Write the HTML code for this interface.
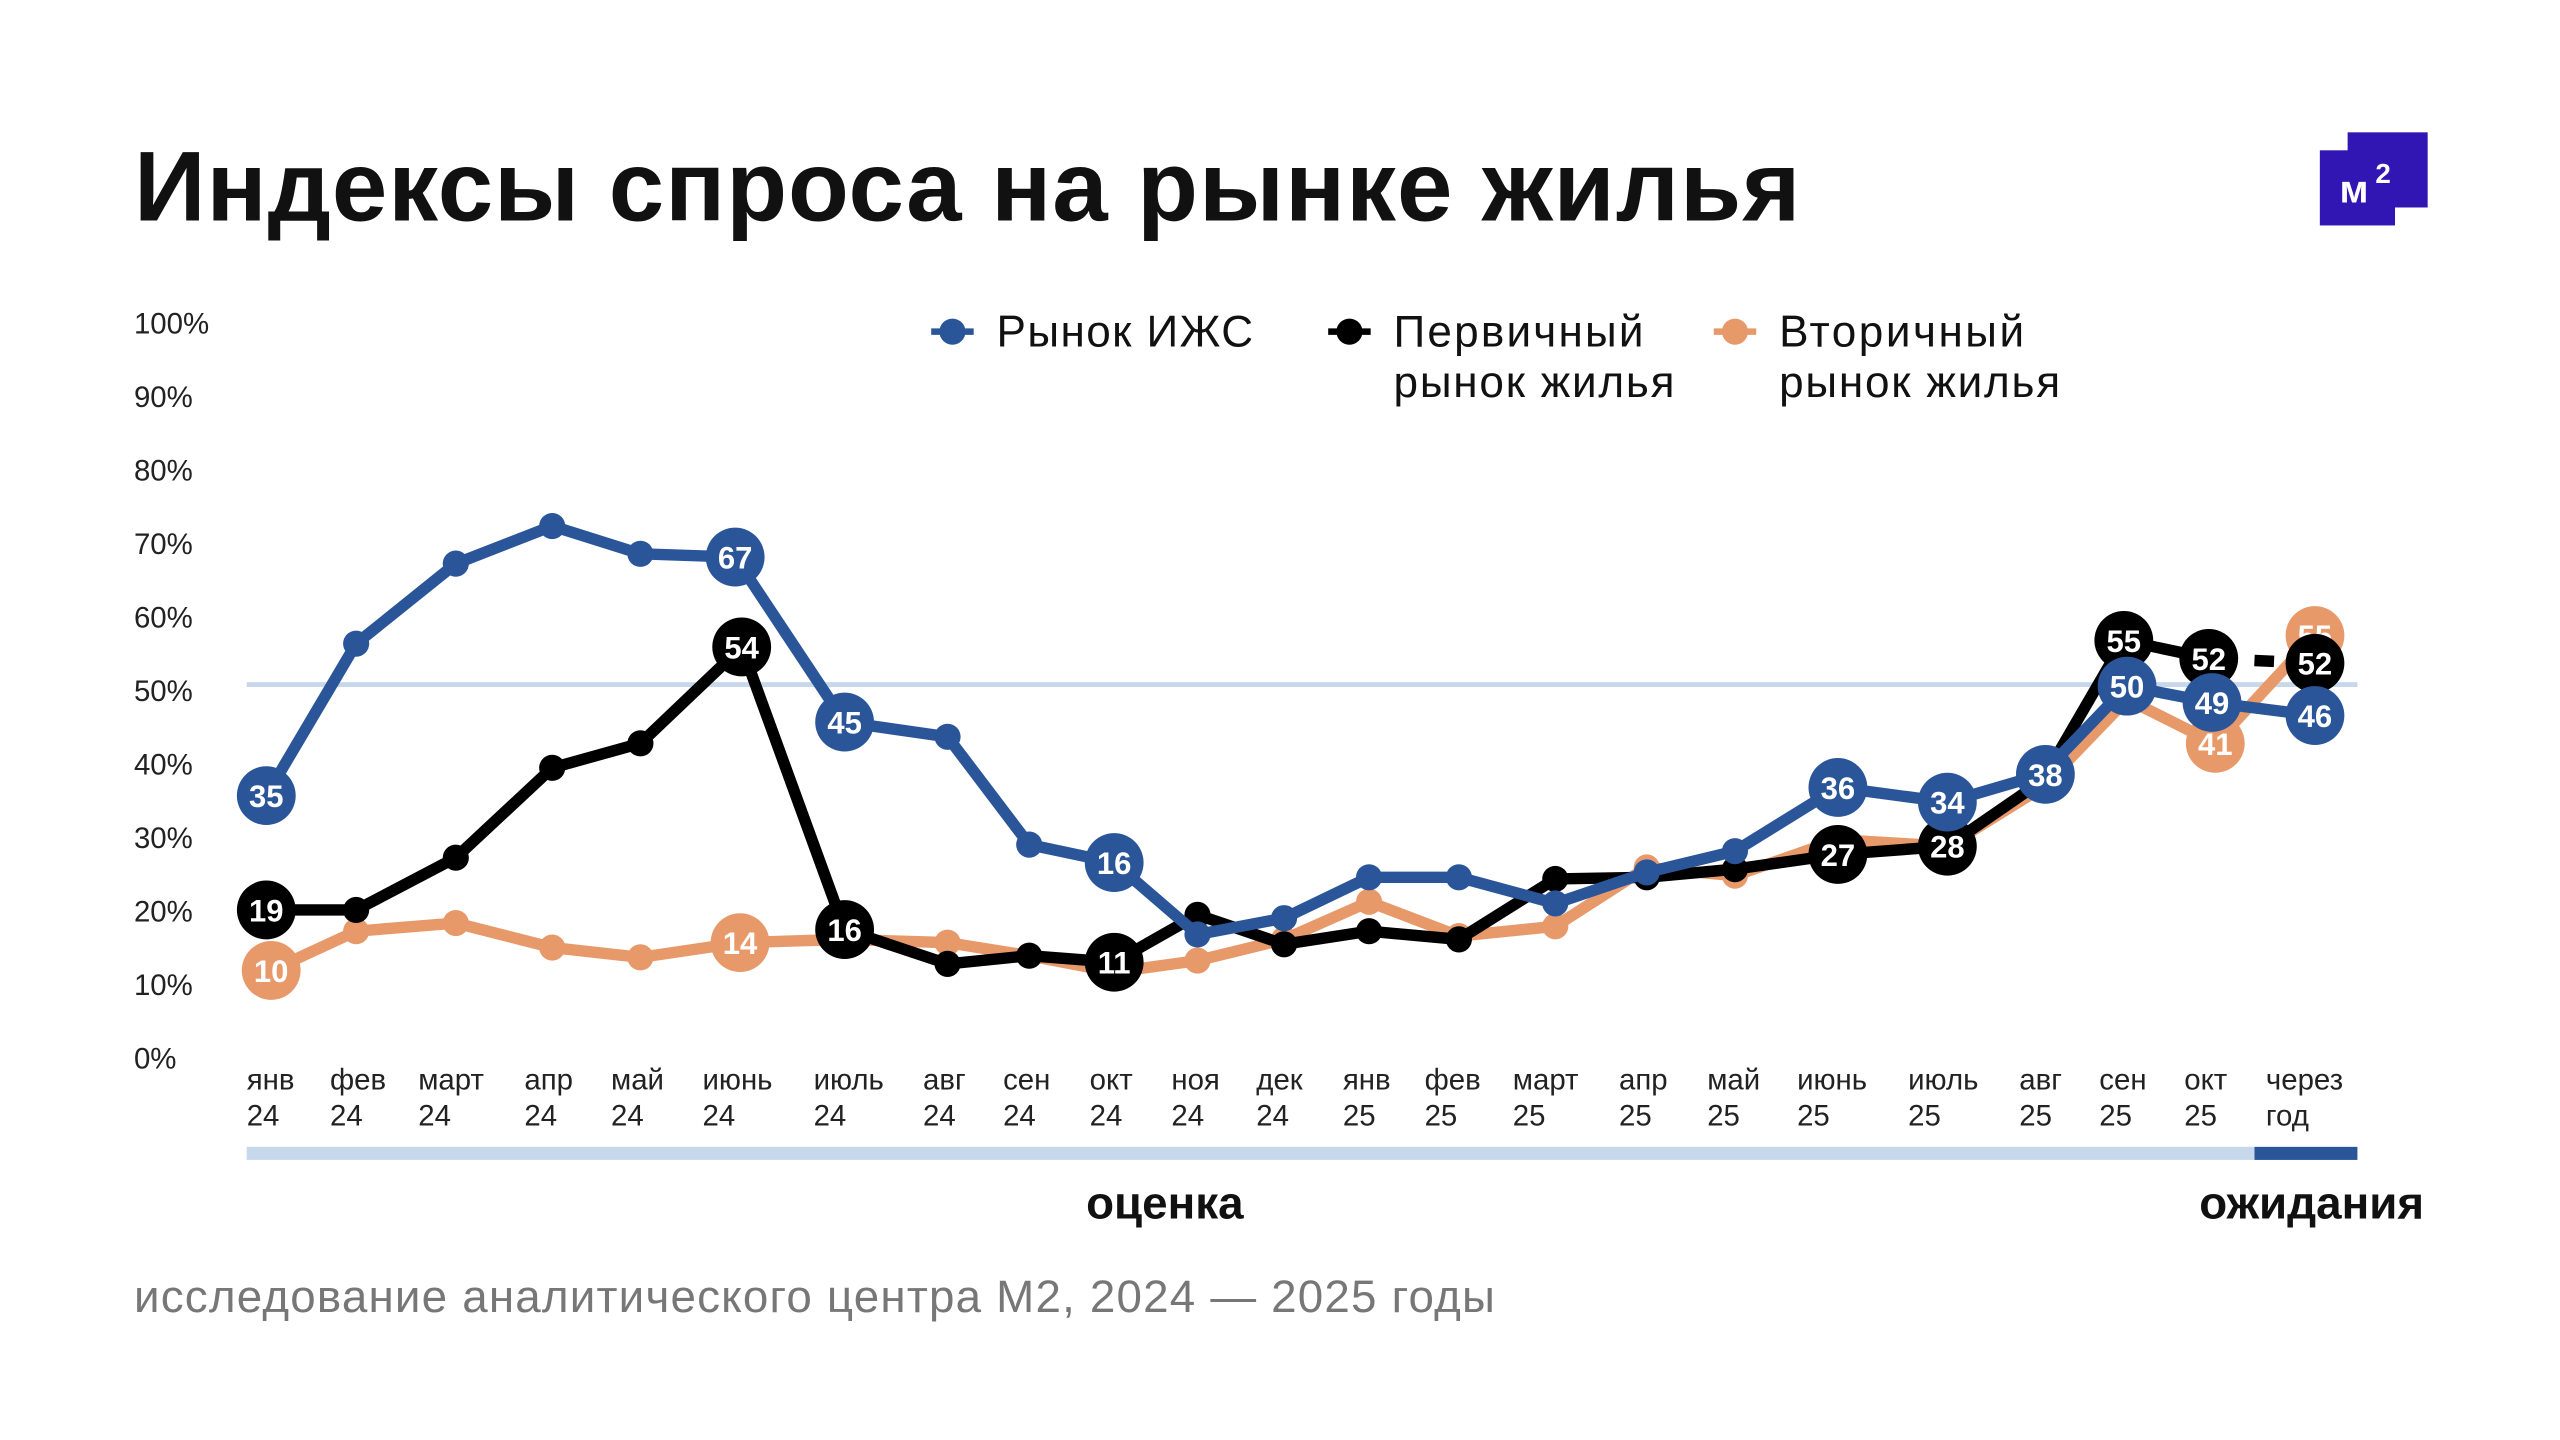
<!DOCTYPE html>
<html><head><meta charset="utf-8"><style>
html,body{margin:0;padding:0;background:#fff;}
svg{display:block;}
text{font-family:"Liberation Sans","DejaVu Sans",sans-serif;}
</style></head><body>
<svg width="2560" height="1440" viewBox="0 0 1567 881" preserveAspectRatio="xMinYMin meet" xmlns="http://www.w3.org/2000/svg">
<rect width="1567" height="881" fill="#fff"/>
<text x="82" y="135" font-size="61" font-weight="bold" fill="#111" textLength="1020">Индексы спроса на рынке жилья</text>
<rect x="1437" y="81" width="49" height="46" fill="#3216b4"/>
<rect x="1420" y="92" width="46" height="46" fill="#3216b4"/>
<text x="1432" y="124" font-size="24" font-weight="bold" fill="#fff">м</text>
<text x="1454" y="112" font-size="17" font-weight="bold" fill="#fff">2</text>

<g font-size="18" fill="#222">
<text x="82" y="204">100%</text><text x="82" y="249">90%</text><text x="82" y="294">80%</text><text x="82" y="339">70%</text><text x="82" y="384">60%</text><text x="82" y="429">50%</text><text x="82" y="474">40%</text><text x="82" y="519">30%</text><text x="82" y="564">20%</text><text x="82" y="609">10%</text><text x="82" y="654">0%</text>
</g>

<g font-size="27" fill="#111">
<line x1="570" y1="203" x2="596" y2="203" stroke="#2a5699" stroke-width="4"/><circle cx="583" cy="203" r="8" fill="#2a5699"/>
<text x="610" y="212" textLength="157">Рынок ИЖС</text>
<line x1="813" y1="203" x2="839" y2="203" stroke="#000" stroke-width="4"/><circle cx="826" cy="203" r="8" fill="#000"/>
<text x="853" y="212" textLength="153">Первичный</text><text x="853" y="243" textLength="172">рынок жилья</text>
<line x1="1049" y1="203" x2="1075" y2="203" stroke="#e8996a" stroke-width="4"/><circle cx="1062" cy="203" r="8" fill="#e8996a"/>
<text x="1089" y="212" textLength="150">Вторичный</text><text x="1089" y="243" textLength="172">рынок жилья</text>
</g>

<line x1="151" y1="419" x2="1443" y2="419" stroke="#c8d8ec" stroke-width="3"/>

<g fill="none" stroke-width="7" stroke-linejoin="round">
<polyline stroke="#e8996a" points="166,594 218,570 279,565 338,580 392,586 453,577 517,575 580,577 630,585 682,595 733,588 786,575 838,552 893,573 952,567 1008,531 1062,536 1125,514 1192,518 1250,482 1302,428 1356,455 1417,389"/>
</g>
<g fill="#e8996a">
<circle cx="218" cy="570" r="8"/><circle cx="279" cy="565" r="8"/><circle cx="338" cy="580" r="8"/><circle cx="392" cy="586" r="8"/><circle cx="517" cy="575" r="8"/><circle cx="580" cy="577" r="8"/><circle cx="630" cy="585" r="8"/><circle cx="733" cy="588" r="8"/><circle cx="786" cy="575" r="8"/><circle cx="838" cy="552" r="8"/><circle cx="893" cy="573" r="8"/><circle cx="952" cy="567" r="8"/><circle cx="1008" cy="531" r="8"/><circle cx="1062" cy="536" r="8"/><circle cx="1125" cy="514" r="8"/><circle cx="1250" cy="482" r="8"/><circle cx="1302" cy="428" r="8"/>
<circle cx="166" cy="594" r="18"/><circle cx="453" cy="577" r="18"/><circle cx="1356" cy="455" r="18"/><circle cx="1417" cy="389" r="18"/>
</g>
<g font-size="19" font-weight="bold" fill="#fff" text-anchor="middle">
<text x="166" y="601">10</text><text x="453" y="584">14</text><text x="1356" y="462">41</text><text x="1417" y="396">55</text>
</g>
<g fill="none" stroke-width="7" stroke-linejoin="round">
<polyline stroke="#000" points="163,557 218,557 279,525 338,470 392,455 454,396 517,569 580,590 630,585 682,589 733,560 786,578 838,570 893,575 952,538 1008,537 1062,532 1125,523 1192,518 1250,478 1300,392 1352,403"/>
<line x1="1352" y1="403" x2="1417" y2="406" stroke="#000" stroke-dasharray="12,16"/>
</g>
<g fill="#000">
<circle cx="218" cy="557" r="8"/><circle cx="279" cy="525" r="8"/><circle cx="338" cy="470" r="8"/><circle cx="392" cy="455" r="8"/><circle cx="580" cy="590" r="8"/><circle cx="630" cy="585" r="8"/><circle cx="733" cy="560" r="8"/><circle cx="786" cy="578" r="8"/><circle cx="838" cy="570" r="8"/><circle cx="893" cy="575" r="8"/><circle cx="952" cy="538" r="8"/><circle cx="1008" cy="537" r="8"/><circle cx="1062" cy="532" r="8"/><circle cx="1250" cy="478" r="8"/>
<circle cx="163" cy="557" r="18"/><circle cx="454" cy="396" r="18"/><circle cx="517" cy="569" r="18"/><circle cx="682" cy="589" r="18"/><circle cx="1125" cy="523" r="18"/><circle cx="1192" cy="518" r="18"/><circle cx="1300" cy="392" r="18"/><circle cx="1352" cy="403" r="18"/><circle cx="1417" cy="406" r="18"/>
</g>
<polyline fill="none" stroke="#2a5699" stroke-width="7" stroke-linejoin="round" points="163,487 218,394 279,345 338,322 392,339 450,341 517,442 580,451 630,517 682,528 733,572 786,562 838,537 893,537 952,553 1008,534 1062,521 1125,482 1192,491 1250,474 1302,420 1354,430 1417,438"/>
<g fill="#2a5699">
<circle cx="218" cy="394" r="8"/><circle cx="279" cy="345" r="8"/><circle cx="338" cy="322" r="8"/><circle cx="392" cy="339" r="8"/><circle cx="580" cy="451" r="8"/><circle cx="630" cy="517" r="8"/><circle cx="733" cy="572" r="8"/><circle cx="786" cy="562" r="8"/><circle cx="838" cy="537" r="8"/><circle cx="893" cy="537" r="8"/><circle cx="952" cy="553" r="8"/><circle cx="1008" cy="534" r="8"/><circle cx="1062" cy="521" r="8"/>
<circle cx="163" cy="487" r="18"/><circle cx="450" cy="341" r="18"/><circle cx="517" cy="442" r="18"/><circle cx="682" cy="528" r="18"/><circle cx="1125" cy="482" r="18"/><circle cx="1192" cy="491" r="18"/><circle cx="1252" cy="474" r="18"/><circle cx="1302" cy="420" r="18"/><circle cx="1354" cy="430" r="18"/><circle cx="1417" cy="438" r="18"/>
</g>
<g font-size="19" font-weight="bold" fill="#fff" text-anchor="middle">
<text x="163" y="564">19</text><text x="454" y="403">54</text><text x="517" y="576">16</text><text x="682" y="596">11</text><text x="1125" y="530">27</text><text x="1192" y="525">28</text><text x="1300" y="399">55</text><text x="1352" y="410">52</text><text x="1417" y="413">52</text>
<text x="163" y="494">35</text><text x="450" y="348">67</text><text x="517" y="449">45</text><text x="682" y="535">16</text><text x="1125" y="489">36</text><text x="1192" y="498">34</text><text x="1252" y="481">38</text><text x="1302" y="427">50</text><text x="1354" y="437">49</text><text x="1417" y="445">46</text>
</g>

<g font-size="18" fill="#222">
<text x="151" y="667">янв</text><text x="151" y="689">24</text>
<text x="202" y="667">фев</text><text x="202" y="689">24</text>
<text x="256" y="667">март</text><text x="256" y="689">24</text>
<text x="321" y="667">апр</text><text x="321" y="689">24</text>
<text x="374" y="667">май</text><text x="374" y="689">24</text>
<text x="430" y="667">июнь</text><text x="430" y="689">24</text>
<text x="498" y="667">июль</text><text x="498" y="689">24</text>
<text x="565" y="667">авг</text><text x="565" y="689">24</text>
<text x="614" y="667">сен</text><text x="614" y="689">24</text>
<text x="667" y="667">окт</text><text x="667" y="689">24</text>
<text x="717" y="667">ноя</text><text x="717" y="689">24</text>
<text x="769" y="667">дек</text><text x="769" y="689">24</text>
<text x="822" y="667">янв</text><text x="822" y="689">25</text>
<text x="872" y="667">фев</text><text x="872" y="689">25</text>
<text x="926" y="667">март</text><text x="926" y="689">25</text>
<text x="991" y="667">апр</text><text x="991" y="689">25</text>
<text x="1045" y="667">май</text><text x="1045" y="689">25</text>
<text x="1100" y="667">июнь</text><text x="1100" y="689">25</text>
<text x="1168" y="667">июль</text><text x="1168" y="689">25</text>
<text x="1236" y="667">авг</text><text x="1236" y="689">25</text>
<text x="1285" y="667">сен</text><text x="1285" y="689">25</text>
<text x="1337" y="667">окт</text><text x="1337" y="689">25</text>
<text x="1387" y="667">через</text><text x="1387" y="689">год</text>
</g>
<rect x="151" y="702" width="1229" height="8" fill="#c8d8ec"/>
<rect x="1380" y="702" width="63" height="8" fill="#2a5699"/>
<text x="713" y="746" font-size="28" font-weight="bold" fill="#111" text-anchor="middle">оценка</text>
<text x="1415" y="746" font-size="28" font-weight="bold" fill="#111" text-anchor="middle">ожидания</text>
<text x="82" y="803" font-size="28" fill="#777" textLength="833">исследование аналитического центра М2, 2024 — 2025 годы</text>
</svg>
</body></html>
